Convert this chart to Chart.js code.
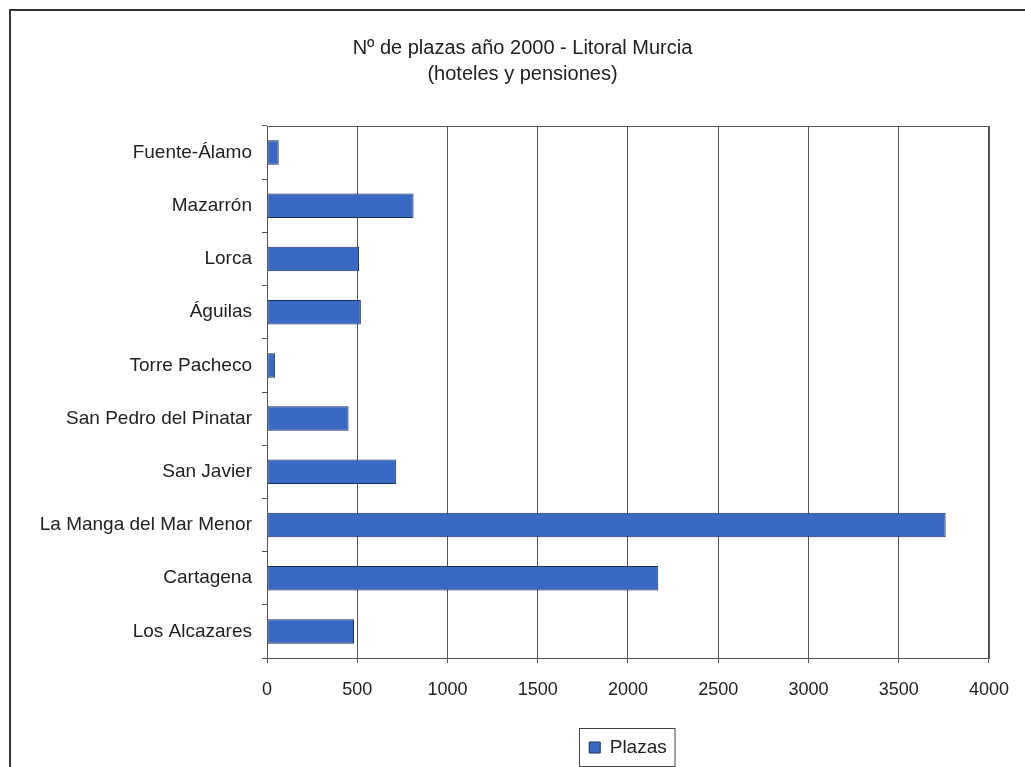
<!DOCTYPE html>
<html>
<head>
<meta charset="utf-8">
<script src="https://cdn.jsdelivr.net/npm/chart.js@4/dist/chart.umd.min.js"></script>
<style>
  html, body { margin: 0; padding: 0; background: #fff; }
  #wrap { width: 1025px; height: 767px; }
</style>
</head>
<body>
<div id="wrap"><canvas id="chart" width="1025" height="767"></canvas></div>
<script>
const municipios = [
    'Fuente-Álamo', 'Mazarrón', 'Lorca', 'Águilas', 'Torre Pacheco',
    'San Pedro del Pinatar', 'San Javier', 'La Manga del Mar Menor',
    'Cartagena', 'Los Alcazares'
];
const plazas = [65, 812, 510, 520, 45, 452, 716, 3760, 2168, 482];
const xTicks = [0, 500, 1000, 1500, 2000, 2500, 3000, 3500, 4000];
const tituloLineas = ['Nº de plazas año 2000 - Litoral Murcia', '(hoteles y pensiones)'];

const fontFamily = '"Liberation Sans", Arial, sans-serif';
const textColor = '#222';

// recolocar titulo y leyenda
const shiftPlugin = {
    id: 'shiftBlocks',
    afterLayout(chart) {
        const a = chart.chartArea;
        chart.titleBlock.left = 56;
        chart.titleBlock.right = a.right;
        chart.legend.left = a.left;
        chart.legend.right = a.right;
    }
};

// marco exterior + borde del area de trazado + caja de leyenda
const framePlugin = {
    id: 'frame',
    afterDraw(chart) {
        const ctx = chart.ctx;
        const a = chart.chartArea;
        ctx.save();
        ctx.strokeStyle = '#333';
        ctx.lineWidth = 2;
        ctx.beginPath();
        ctx.moveTo(10, 767);
        ctx.lineTo(10, 10);
        ctx.lineTo(1025, 10);
        ctx.stroke();

        ctx.strokeStyle = '#555';
        ctx.lineWidth = 1;
        ctx.strokeRect(a.left + 0.5, a.top + 0.5, a.right - a.left, a.bottom - a.top);

        const hb = chart.legend.legendHitBoxes[0];
        if (hb) {
            ctx.strokeStyle = '#444';
            ctx.strokeRect(Math.round(hb.left) - 9.5, Math.round(hb.top) - 9.5, hb.width + 18, hb.height + 19);
        }
        ctx.restore();
    }
};

new Chart(document.getElementById('chart').getContext('2d'), {
    type: 'bar',
    data: {
        labels: municipios,
        datasets: [{
            label: 'Plazas',
            data: plazas,
            backgroundColor: '#3a69c4',
            borderColor: '#1c2f5c',
            borderWidth: 1,
            borderSkipped: false,
            categoryPercentage: 1,
            barPercentage: 0.46
        }]
    },
    options: {
        indexAxis: 'y',
        responsive: false,
        animation: false,
        layout: { padding: { top: 0, right: 35, bottom: 0, left: 0 } },
        plugins: {
            title: {
                display: true,
                text: tituloLineas,
                color: textColor,
                font: { family: fontFamily, size: 20, weight: 'normal', lineHeight: 1.3 },
                padding: { top: 35, bottom: 39 }
            },
            legend: {
                position: 'bottom',
                labels: {
                    color: textColor,
                    font: { family: fontFamily, size: 19 },
                    boxWidth: 11,
                    boxHeight: 11,
                    padding: 8
                }
            },
            tooltip: { enabled: false }
        },
        scales: {
            x: {
                min: 0,
                max: 4000,
                afterBuildTicks(scale) {
                    scale.ticks = xTicks.map(v => ({ value: v }));
                },
                afterFit(scale) { scale.height = 72; },
                grid: {
                    color: '#555',
                    lineWidth: 1,
                    tickLength: 5,
                    tickColor: '#555'
                },
                border: { color: '#555' },
                ticks: {
                    color: textColor,
                    font: { family: fontFamily, size: 18 },
                    padding: 16,
                    callback: v => String(v)
                }
            },
            y: {
                afterFit(scale) { scale.width = 267; },
                grid: {
                    drawOnChartArea: false,
                    offset: true,
                    tickLength: 5,
                    tickColor: '#555'
                },
                border: { color: '#555' },
                ticks: {
                    color: textColor,
                    font: { family: fontFamily, size: 19 },
                    padding: 10
                }
            }
        }
    },
    plugins: [shiftPlugin, framePlugin]
});
</script>
</body>
</html>
